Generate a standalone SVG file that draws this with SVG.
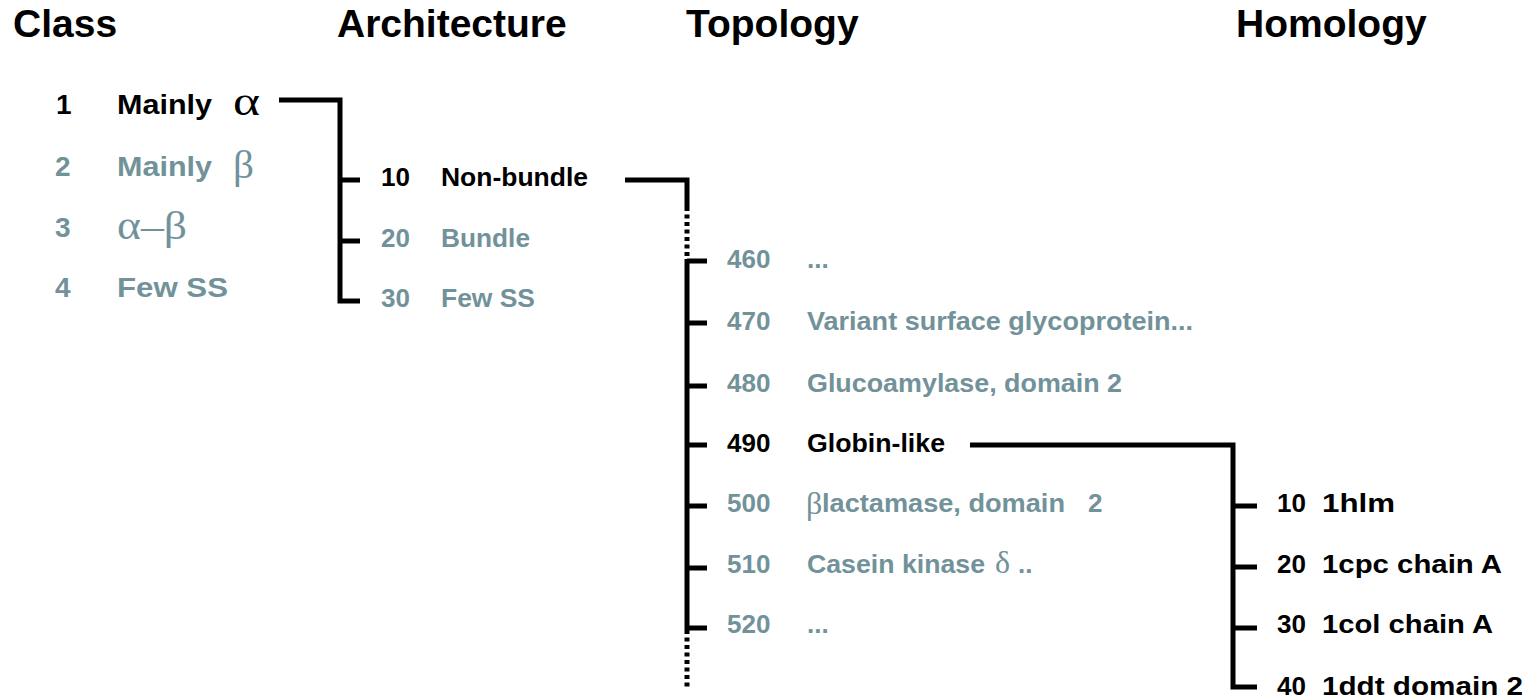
<svg xmlns="http://www.w3.org/2000/svg" width="1530" height="698" viewBox="0 0 1530 698">
  <style>
    .hdr { font-family: "Liberation Sans", Arial, sans-serif; font-weight: bold; font-size: 39px; fill: #000; }
    .t { font-family: "Liberation Sans", Arial, sans-serif; font-weight: bold; font-size: 26px; }
    .big { font-size: 28px; }
    .gr { font-family: "Liberation Serif", "Times New Roman", serif; font-weight: normal; }
    .gl { font-size: 40px; }
    .gs { font-size: 32px; }
    .on { fill: #000; }
    .off { fill: #72929a; }
    .ln { fill: none; stroke: #000; stroke-width: 5; stroke-linejoin: miter; stroke-linecap: butt; }
    .dot { fill: none; stroke: #000; stroke-width: 5; stroke-dasharray: 4 3.5; }
  </style>
  <rect width="1530" height="698" fill="#fff"/>

  <!-- column headings -->
  <g id="headers">
    <text class="hdr" x="13" y="37">Class</text>
    <text class="hdr" x="337" y="37">Architecture</text>
    <text class="hdr" x="686" y="37">Topology</text>
    <text class="hdr" x="1236" y="37">Homology</text>
  </g>

  <!-- connectors -->
  <g id="connectors">
    <path class="ln" d="M279,100 H340 V301 H360 M340,180 H360 M340,241 H360"/>
    <path class="ln" d="M625,180 H687 V207"/>
    <path class="dot" d="M687,207 V259"/>
    <path class="ln" d="M687,259 V630 M687,261 H707 M687,323 H707 M687,386 H707 M687,445 H707 M687,506 H707 M687,568 H707 M687,628 H707"/>
    <path class="dot" d="M687,630 V690"/>
    <path class="ln" d="M970,445 H1233 V687 H1257 M1233,506 H1257 M1233,567 H1257 M1233,628 H1257"/>
  </g>

  <!-- class level -->
  <g id="class-1">
    <text class="t big on" x="56" y="114">1</text>
    <text class="t big on" x="117" y="114" textLength="95" lengthAdjust="spacingAndGlyphs">Mainly</text>
    <text class="t gr gl on" x="233" y="115" textLength="27" lengthAdjust="spacingAndGlyphs">α</text>
  </g>
  <g id="class-2">
    <text class="t big off" x="55" y="176">2</text>
    <text class="t big off" x="117" y="176" textLength="95" lengthAdjust="spacingAndGlyphs">Mainly</text>
    <text class="t gr gl off" x="233" y="178" textLength="21" lengthAdjust="spacingAndGlyphs">β</text>
  </g>
  <g id="class-3">
    <text class="t big off" x="55" y="237">3</text>
    <text class="t gr gl off" x="117" y="239" textLength="70" lengthAdjust="spacingAndGlyphs">α–β</text>
  </g>
  <g id="class-4">
    <text class="t big off" x="55" y="297">4</text>
    <text class="t big off" x="117" y="297" textLength="111" lengthAdjust="spacingAndGlyphs">Few SS</text>
  </g>

  <!-- architecture level -->
  <g id="arch-10">
    <text class="t on" x="381" y="186">10</text>
    <text class="t on" x="441" y="186" textLength="147" lengthAdjust="spacingAndGlyphs">Non-bundle</text>
  </g>
  <g id="arch-20">
    <text class="t off" x="381" y="247">20</text>
    <text class="t off" x="441" y="247" textLength="89" lengthAdjust="spacingAndGlyphs">Bundle</text>
  </g>
  <g id="arch-30">
    <text class="t off" x="381" y="307">30</text>
    <text class="t off" x="441" y="307" textLength="94" lengthAdjust="spacingAndGlyphs">Few SS</text>
  </g>

  <!-- topology level -->
  <g id="topo-460">
    <text class="t off" x="727" y="268">460</text>
    <text class="t off" x="807" y="268">...</text>
  </g>
  <g id="topo-470">
    <text class="t off" x="727" y="330">470</text>
    <text class="t off" x="807" y="330" textLength="386" lengthAdjust="spacingAndGlyphs">Variant surface glycoprotein...</text>
  </g>
  <g id="topo-480">
    <text class="t off" x="727" y="392">480</text>
    <text class="t off" x="807" y="392" textLength="315" lengthAdjust="spacingAndGlyphs">Glucoamylase, domain 2</text>
  </g>
  <g id="topo-490">
    <text class="t on" x="727" y="452">490</text>
    <text class="t on" x="807" y="452" textLength="138" lengthAdjust="spacingAndGlyphs">Globin-like</text>
  </g>
  <g id="topo-500">
    <text class="t off" x="727" y="512">500</text>
    <text class="t gr gs off" x="806" y="514">β</text>
    <text class="t off" x="822" y="512" textLength="243" lengthAdjust="spacingAndGlyphs">lactamase, domain</text>
    <text class="t off" x="1088" y="512">2</text>
  </g>
  <g id="topo-510">
    <text class="t off" x="727" y="573">510</text>
    <text class="t off" x="807" y="573" textLength="178" lengthAdjust="spacingAndGlyphs">Casein kinase</text>
    <text class="t gr gs off" x="995" y="573">δ</text>
    <text class="t off" x="1018" y="573">..</text>
  </g>
  <g id="topo-520">
    <text class="t off" x="727" y="633">520</text>
    <text class="t off" x="807" y="633">...</text>
  </g>

  <!-- homology level -->
  <g id="hom-10">
    <text class="t on" x="1277" y="512">10</text>
    <text class="t on" x="1322" y="512" textLength="73" lengthAdjust="spacingAndGlyphs">1hlm</text>
  </g>
  <g id="hom-20">
    <text class="t on" x="1277" y="573">20</text>
    <text class="t on" x="1322" y="573" textLength="180" lengthAdjust="spacingAndGlyphs">1cpc chain A</text>
  </g>
  <g id="hom-30">
    <text class="t on" x="1277" y="633">30</text>
    <text class="t on" x="1322" y="633" textLength="171" lengthAdjust="spacingAndGlyphs">1col chain A</text>
  </g>
  <g id="hom-40">
    <text class="t on" x="1277" y="695">40</text>
    <text class="t on" x="1322" y="695" textLength="201" lengthAdjust="spacingAndGlyphs">1ddt domain 2</text>
  </g>
</svg>
